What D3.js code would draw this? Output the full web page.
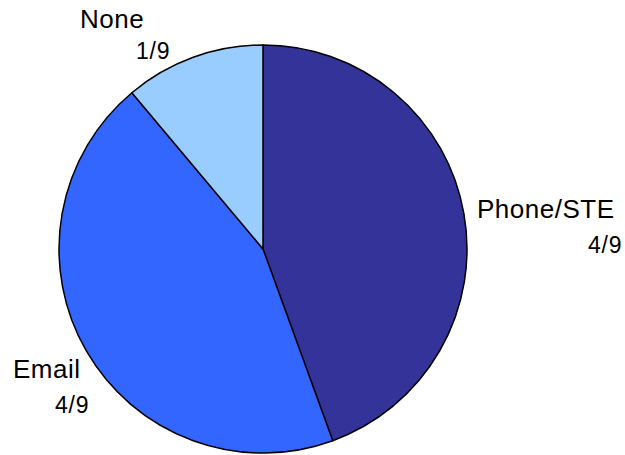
<!DOCTYPE html>
<html>
<head>
<meta charset="utf-8">
<script src="https://cdn.jsdelivr.net/npm/d3@7"></script>
<style>
  body { margin: 0; background: #fff; }
  svg  { display: block; }
  text { font-family: "Liberation Sans", Arial, sans-serif; fill: #000; }
</style>
</head>
<body>
<script>
/* global d3 */

var categories = ["Phone/STE", "Email", "None"];
var values     = [4, 4, 1];
var fractions  = ["4/9", "4/9", "1/9"];
var colors     = ["#333399", "#3366FF", "#99CCFF"];

// label spots (name, then fraction) picked to match the reference layout
var namePos = [[477, 218], [13, 378], [80, 28]];
var fracPos = [[588, 253], [55, 413], [136, 59]];

var width  = 625;
var height = 455;
var cx = 263, cy = 249, r = 204;

var svg = d3.select("body").append("svg")
            .attr("width", width)
            .attr("height", height);

var pie = d3.pie()
            .sort(null)
            .value((d) => d);

var arc = d3.arc()
            .innerRadius(0)
            .outerRadius(r);

var g = svg.append("g")
           .attr("transform", `translate(${cx},${cy})`);

g.selectAll("path")
 .data(pie(values))
 .enter().append("path")
 .attr("d", arc)
 .attr("fill", (d, i) => colors[i])
 .attr("stroke", "#000")
 .attr("stroke-width", 1.5)
 .attr("stroke-linejoin", "round");

svg.selectAll("text.name")
   .data(categories)
   .enter().append("text")
   .attr("class", "name")
   .attr("x", (d, i) => namePos[i][0])
   .attr("y", (d, i) => namePos[i][1])
   .style("font-size", "26px")
   .style("letter-spacing", "0.5px")
   .text((d) => d);

svg.selectAll("text.frac")
   .data(fractions)
   .enter().append("text")
   .attr("class", "frac")
   .attr("x", (d, i) => fracPos[i][0])
   .attr("y", (d, i) => fracPos[i][1])
   .style("font-size", "23px")
   .style("letter-spacing", "0.8px")
   .text((d) => d);
</script>
</body>
</html>
